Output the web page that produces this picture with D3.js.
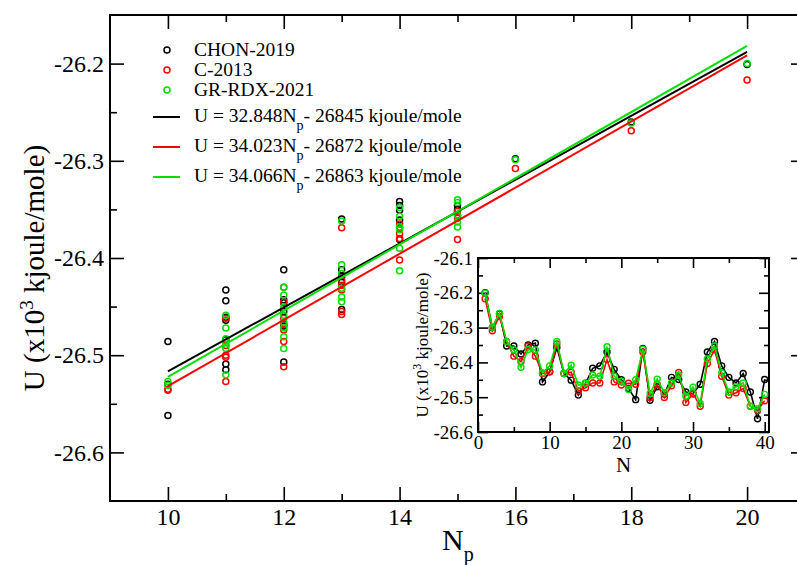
<!DOCTYPE html>
<html><head><meta charset="utf-8">
<script src="https://cdn.jsdelivr.net/npm/d3@7"></script>
<style>body{margin:0;background:#fff}svg{display:block;font-family:"Liberation Serif","Times New Roman",serif}</style>
</head><body><svg id="c" width="797" height="565"></svg>
<script>
const seriesNames = ["CHON-2019", "C-2013", "GR-RDX-2021"];
const seriesColors = ["#000000", "#ff0000", "#00e000"];
const fitSlopes = [32.848, 34.023, 34.066];
const fitIntercepts = [-26845, -26872, -26863];
const fitRange = [10, 20];

// Main scatter (U in 10^3 kJ/mol vs Np)
const chonNp = [10,10,10, 11,11,11,11,11,11,11, 12,12,12,12,12,12, 13,13,13,13,13, 14,14,14,14,14,14, 15,15,15, 16, 18, 20];
const chonU  = [-26.486,-26.562,-26.530, -26.433,-26.444,-26.461,-26.464,-26.484,-26.509,-26.515, -26.412,-26.443,-26.446,-26.455,-26.470,-26.507, -26.360,-26.412,-26.419,-26.425,-26.453, -26.342,-26.346,-26.351,-26.361,-26.369,-26.381, -26.346,-26.350,-26.356, -26.298, -26.260, -26.201];
const cNp = [10,10, 11,11,11,11,11, 12,12,12,12,12,12,12, 13,13,13,13,13,13, 14,14,14,14, 15,15,15, 16, 18, 20];
const cU  = [-26.535,-26.536, -26.462,-26.490,-26.500,-26.502,-26.527, -26.430,-26.445,-26.462,-26.468,-26.474,-26.486,-26.512, -26.369,-26.423,-26.428,-26.433,-26.455,-26.458, -26.365,-26.375,-26.380,-26.402, -26.352,-26.359,-26.381, -26.308, -26.269, -26.217];
const grNp = [10,10, 11,11,11,11,11,11, 12,12,12,12,12,12,12,12, 13,13,13,13,13,13, 14,14,14,14,14,14, 15,15,15,15,15, 16, 18, 20];
const grU  = [-26.527,-26.531, -26.459,-26.472,-26.483,-26.487,-26.493,-26.520, -26.430,-26.438,-26.451,-26.459,-26.466,-26.472,-26.481,-26.493, -26.362,-26.407,-26.416,-26.431,-26.440,-26.445, -26.348,-26.357,-26.368,-26.371,-26.390,-26.413, -26.340,-26.343,-26.356,-26.363,-26.368, -26.299, -26.261, -26.200];

// Inset: U vs structure index N
const insetN = [1,2,3,4,5,6,7,8,9,10,11,12,13,14,15,16,17,18,19,20,21,22,23,24,25,26,27,28,29,30,31,32,33,34,35,36,37,38,39,40];
const insetChon = [-26.200,-26.300,-26.260,-26.353,-26.353,-26.376,-26.350,-26.345,-26.456,-26.427,-26.357,-26.432,-26.451,-26.494,-26.460,-26.417,-26.410,-26.370,-26.420,-26.450,-26.475,-26.507,-26.360,-26.509,-26.470,-26.491,-26.443,-26.449,-26.485,-26.490,-26.463,-26.370,-26.340,-26.410,-26.443,-26.459,-26.432,-26.485,-26.562,-26.449];
const insetC = [-26.217,-26.309,-26.268,-26.340,-26.382,-26.398,-26.353,-26.382,-26.432,-26.427,-26.347,-26.432,-26.428,-26.482,-26.473,-26.459,-26.459,-26.392,-26.456,-26.465,-26.460,-26.463,-26.370,-26.501,-26.463,-26.501,-26.467,-26.429,-26.515,-26.490,-26.526,-26.403,-26.364,-26.440,-26.494,-26.487,-26.475,-26.526,-26.538,-26.510];
const insetGr = [-26.201,-26.299,-26.259,-26.340,-26.364,-26.414,-26.363,-26.364,-26.430,-26.410,-26.340,-26.432,-26.408,-26.465,-26.460,-26.436,-26.440,-26.355,-26.440,-26.454,-26.478,-26.450,-26.362,-26.490,-26.448,-26.487,-26.459,-26.437,-26.497,-26.471,-26.518,-26.390,-26.353,-26.430,-26.485,-26.470,-26.459,-26.526,-26.533,-26.492];

const mainXTicks = [10, 12, 14, 16, 18, 20];
const mainXMinor = [11, 13, 15, 17, 19];
const mainYTicks = [-26.6, -26.5, -26.4, -26.3, -26.2];
const mainYMinor = [-26.55, -26.45, -26.35, -26.25];
const insetXTicks = [0, 10, 20, 30, 40];
const insetXMinor = [5, 15, 25, 35];
const insetYTicks = [-26.6, -26.5, -26.4, -26.3, -26.2, -26.1];
const insetYMinor = [-26.55, -26.45, -26.35, -26.25, -26.15];

const svg = d3.select("#c");
const M = {l: 110, r: 805, t: 15, b: 501};
const x = d3.scaleLinear().domain([9, 21]).range([M.l, M.r]);
const y = d3.scaleLinear().domain([-26.65, -26.15]).range([M.b, M.t]);
const fmt1 = d => d.toFixed(1);
const fmt0 = d => String(d);

function styleAxis(g, fs) {
  g.select(".domain").remove();
  g.selectAll(".tick line").attr("stroke", "#000").attr("stroke-width", 1.6);
  g.selectAll("text").attr("font-size", fs).attr("fill", "#000").attr("font-family", '"Liberation Serif","Times New Roman",serif');
}
function axes(sx, sy, box, major, minorLen, xT, xM, yT, yM, fs, fx, fy, padX, padY) {
  const b = svg.append("g").attr("transform", `translate(0,${box.b})`)
    .call(d3.axisBottom(sx).tickValues(xT).tickSize(-major).tickPadding(padX).tickFormat(fx));
  styleAxis(b, fs);
  const bm = svg.append("g").attr("transform", `translate(0,${box.b})`)
    .call(d3.axisBottom(sx).tickValues(xM).tickSize(-minorLen).tickFormat(""));
  styleAxis(bm, fs);
  const t = svg.append("g").attr("transform", `translate(0,${box.t})`)
    .call(d3.axisTop(sx).tickValues(xT).tickSize(-major).tickFormat(""));
  styleAxis(t, fs);
  const tm = svg.append("g").attr("transform", `translate(0,${box.t})`)
    .call(d3.axisTop(sx).tickValues(xM).tickSize(-minorLen).tickFormat(""));
  styleAxis(tm, fs);
  const l = svg.append("g").attr("transform", `translate(${box.l},0)`)
    .call(d3.axisLeft(sy).tickValues(yT).tickSize(-major).tickPadding(padY).tickFormat(fy));
  styleAxis(l, fs);
  const lm = svg.append("g").attr("transform", `translate(${box.l},0)`)
    .call(d3.axisLeft(sy).tickValues(yM).tickSize(-minorLen).tickFormat(""));
  styleAxis(lm, fs);
  const r = svg.append("g").attr("transform", `translate(${box.r},0)`)
    .call(d3.axisRight(sy).tickValues(yT).tickSize(-major).tickFormat(""));
  styleAxis(r, fs);
  const rm = svg.append("g").attr("transform", `translate(${box.r},0)`)
    .call(d3.axisRight(sy).tickValues(yM).tickSize(-minorLen).tickFormat(""));
  styleAxis(rm, fs);
  svg.append("rect").attr("x", box.l).attr("y", box.t).attr("width", box.r - box.l).attr("height", box.b - box.t)
    .attr("fill", "none").attr("stroke", "#000").attr("stroke-width", 2);
}

// main frame axes
axes(x, y, M, 14, 7, mainXTicks, mainXMinor, mainYTicks, mainYMinor, 24, fmt0, fmt1, 7, 6);

// main scatter
const mainSets = [[chonNp, chonU], [cNp, cU], [grNp, grU]];
mainSets.forEach((s, i) => {
  svg.append("g").selectAll("circle").data(s[0].map((n, k) => [n, s[1][k]])).join("circle")
    .attr("cx", d => x(d[0])).attr("cy", d => y(d[1])).attr("r", 3)
    .attr("fill", "none").attr("stroke", seriesColors[i]).attr("stroke-width", 1.5);
});
// fit lines
fitSlopes.forEach((s, i) => {
  const pts = fitRange.map(n => [n, (s * n + fitIntercepts[i]) / 1000]);
  svg.append("line").attr("x1", x(pts[0][0])).attr("y1", y(pts[0][1]))
    .attr("x2", x(pts[1][0])).attr("y2", y(pts[1][1]))
    .attr("stroke", seriesColors[i]).attr("stroke-width", 2);
});

// legend
const lg = svg.append("g").attr("font-size", 19.5);
seriesNames.forEach((n, i) => {
  const cy = 50 + i * 20;
  lg.append("circle").attr("cx", 167).attr("cy", cy).attr("r", 3).attr("fill", "none")
    .attr("stroke", seriesColors[i]).attr("stroke-width", 1.5);
  lg.append("text").attr("x", 194).attr("y", cy + 6).text(n);
});
fitSlopes.forEach((s, i) => {
  const ly = 117 + i * 30;
  lg.append("line").attr("x1", 153).attr("x2", 180).attr("y1", ly).attr("y2", ly)
    .attr("stroke", seriesColors[i]).attr("stroke-width", 2);
  const t = lg.append("text").attr("x", 194).attr("y", ly + 5);
  t.append("tspan").text(`U = ${s.toFixed(3)}N`);
  t.append("tspan").attr("dy", 8).attr("font-size", 14).text("p");
  t.append("tspan").attr("dy", -8).text(`- ${Math.abs(fitIntercepts[i])} kjoule/mole`);
});

// main axis titles
const yl = svg.append("text").attr("transform", "translate(44,268) rotate(-90)")
  .attr("text-anchor", "middle").attr("font-size", 29);
yl.append("tspan").text("U (x10");
yl.append("tspan").attr("dy", -11).attr("font-size", 19).text("3");
yl.append("tspan").attr("dy", 11).text(" kjoule/mole)");
const xl = svg.append("text").attr("x", 442).attr("y", 550).attr("font-size", 30);
xl.append("tspan").text("N");
xl.append("tspan").attr("dy", 11).attr("font-size", 20).text("p");

// inset
const I = {l: 478, r: 769, t: 258, b: 432};
const ix = d3.scaleLinear().domain([0, 40.6]).range([I.l, I.r]);
const iy = d3.scaleLinear().domain([-26.6, -26.1]).range([I.b, I.t]);
svg.append("rect").attr("x", I.l).attr("y", I.t).attr("width", I.r - I.l).attr("height", I.b - I.t).attr("fill", "#fff");
axes(ix, iy, I, 10, 5, insetXTicks, insetXMinor, insetYTicks, insetYMinor, 19, fmt0, fmt1, 4, 5);

const insetSets = [insetChon, insetC, insetGr];
const lineGen = d3.line().x(d => ix(d[0])).y(d => iy(d[1]));
insetSets.forEach((vals, i) => {
  const data = insetN.map((n, k) => [n, vals[k]]);
  svg.append("path").datum(data).attr("d", lineGen).attr("fill", "none")
    .attr("stroke", seriesColors[i]).attr("stroke-width", 1.6);
  svg.append("g").selectAll("circle").data(data).join("circle")
    .attr("cx", d => ix(d[0])).attr("cy", d => iy(d[1])).attr("r", 3)
    .attr("fill", "none").attr("stroke", seriesColors[i]).attr("stroke-width", 1.4);
});

const iyl = svg.append("text").attr("transform", "translate(428,345) rotate(-90)")
  .attr("text-anchor", "middle").attr("font-size", 17);
iyl.append("tspan").text("U (x10");
iyl.append("tspan").attr("dy", -7).attr("font-size", 12).text("3");
iyl.append("tspan").attr("dy", 7).text(" kjoule/mole)");
svg.append("text").attr("x", (I.l + I.r) / 2).attr("y", 472).attr("text-anchor", "middle")
  .attr("font-size", 21).text("N");
</script></body></html>
